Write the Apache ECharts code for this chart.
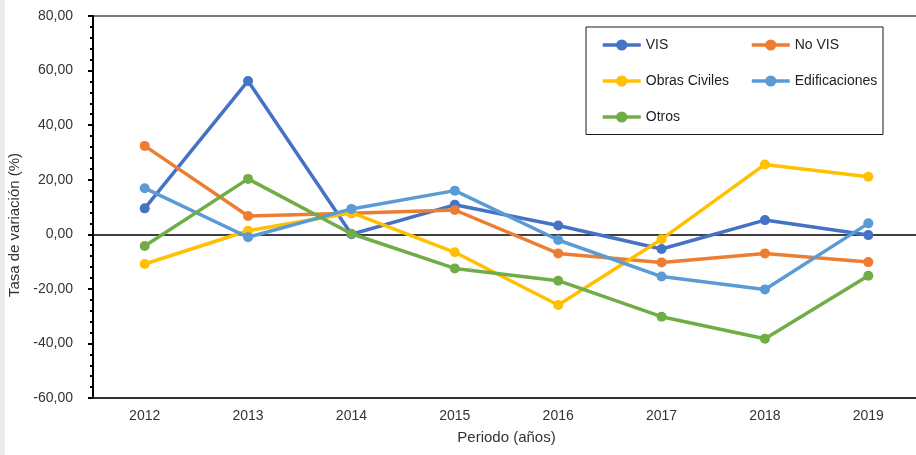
<!DOCTYPE html>
<html>
<head>
<meta charset="utf-8">
<title>Tasa de variación por segmento</title>
<script src="https://cdn.jsdelivr.net/npm/echarts@6/dist/echarts.min.js"></script>
<style>
  html, body { margin: 0; padding: 0; background: #ffffff; }
  #chart { width: 916px; height: 455px; }
</style>
</head>
<body>
<div id="chart"></div>
<script>
// Años del periodo
const years = ['2012', '2013', '2014', '2015', '2016', '2017', '2018', '2019'];

// Tasa de variación anual (%) por segmento
const vis           = [9.5, 56.2, 0.0, 10.8, 3.2, -5.4, 5.2, -0.3];
const noVis         = [32.4, 6.7, 7.7, 8.9, -7.0, -10.3, -7.0, -10.2];
const obrasCiviles  = [-10.9, 1.3, 7.9, -6.6, -25.9, -1.8, 25.6, 21.1];
const edificaciones = [16.9, -1.1, 9.3, 16.0, -2.1, -15.5, -20.2, 4.0];
const otros         = [-4.3, 20.3, 0.2, -12.5, -17.0, -30.2, -38.3, -15.2];

// Escala del eje vertical
const yMin = -60;
const yMax = 80;
const yStep = 20;

const seriesNames  = ['VIS', 'No VIS', 'Obras Civiles', 'Edificaciones', 'Otros'];
const seriesValues = [vis, noVis, obrasCiviles, edificaciones, otros];
const seriesColors = ['#4472C4', '#ED7D31', '#FFC000', '#5B9BD5', '#70AD47'];

const FONT = "'Liberation Sans Narrow', 'Liberation Sans', Arial, sans-serif";
const TEXT = '#333333';

const chart = echarts.init(document.getElementById('chart'), null, { renderer: 'canvas' });

const series = seriesNames.map((name, i) => ({
  name: name,
  type: 'line',
  data: seriesValues[i],
  symbol: 'circle',
  symbolSize: 10,
  color: seriesColors[i],
  lineStyle: { width: 3.5, color: seriesColors[i] },
  itemStyle: { color: seriesColors[i] },
  emphasis: { disabled: true },
  z: 3 + i
}));

// Línea de referencia en cero
series[0].markLine = {
  silent: true,
  symbol: ['none', 'none'],
  label: { show: false },
  lineStyle: { color: '#000000', width: 1.5, type: 'solid' },
  data: [{ yAxis: 0 }],
  z: 2
};

const legendCommon = {
  orient: 'vertical',
  top: 33,
  itemWidth: 38,
  itemHeight: 14,
  itemGap: 22,
  lineStyle: { width: 3.5 },
  textStyle: { fontFamily: FONT, fontSize: 14, color: '#222222', lineHeight: 14 },
  selectedMode: false
};

chart.setOption({
  animation: false,
  backgroundColor: '#ffffff',
  grid: {
    left: 93,
    right: -4,
    top: 16,
    bottom: 57,
    containLabel: false,
    outerBoundsMode: 'none',
    show: true,
    borderColor: '#4d4d4d',
    borderWidth: 1.5,
    backgroundColor: 'transparent'
  },
  legend: [
    Object.assign({}, legendCommon, { left: 596, data: ['VIS', 'Obras Civiles', 'Otros'] }),
    Object.assign({}, legendCommon, { left: 745, data: ['No VIS', 'Edificaciones'] })
  ],
  xAxis: {
    type: 'category',
    data: years,
    boundaryGap: true,
    name: 'Periodo (años)',
    nameLocation: 'middle',
    nameGap: 32,
    nameTextStyle: { fontFamily: FONT, fontSize: 15, color: TEXT },
    axisLine: { show: true, onZero: false, lineStyle: { color: '#1a1a1a', width: 1.5 } },
    axisTick: { show: false },
    axisLabel: { fontFamily: FONT, fontSize: 14, color: TEXT, margin: 11 },
    splitLine: { show: false }
  },
  yAxis: {
    type: 'value',
    min: yMin,
    max: yMax,
    interval: yStep,
    name: 'Tasa de variación (%)',
    nameLocation: 'middle',
    nameGap: 65,
    nameRotate: 90,
    nameTextStyle: { fontFamily: FONT, fontSize: 15, color: TEXT, padding: [0, 36, 0, 0] },
    axisLine: { show: true, lineStyle: { color: '#000000', width: 2 } },
    axisTick: { show: true, inside: false, length: 5, lineStyle: { color: '#000000', width: 2 } },
    minorTick: { show: true, splitNumber: 5, length: 3, lineStyle: { color: '#000000', width: 2 } },
    axisLabel: {
      fontFamily: FONT,
      fontSize: 14,
      color: TEXT,
      margin: 20,
      formatter: v => v.toFixed(2).replace('.', ',')
    },
    splitLine: { show: false },
    minorSplitLine: { show: false }
  },
  graphic: [
    {
      type: 'rect',
      left: 0,
      top: 0,
      shape: { width: 5, height: 455 },
      style: { fill: '#ececec' },
      silent: true
    },
    {
      type: 'rect',
      left: 585.5,
      top: 26.5,
      shape: { width: 297, height: 107.5 },
      style: { fill: 'transparent', stroke: '#1a1a1a', lineWidth: 1 },
      silent: true,
      z: 10
    }
  ],
  series: series
});
</script>
</body>
</html>
